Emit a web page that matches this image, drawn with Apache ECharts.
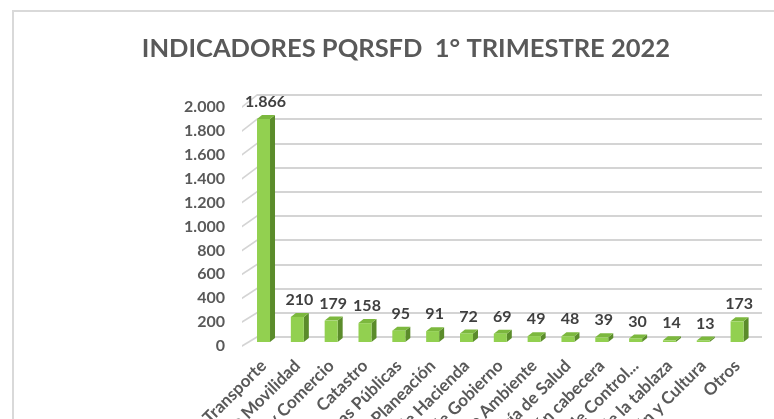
<!DOCTYPE html>
<html>
<head>
<meta charset="utf-8">
<script src="https://cdn.jsdelivr.net/npm/echarts@6/dist/echarts.min.js"></script>
<style>
html, body { margin: 0; background: #fff; }
#wrap { position: relative; width: 774px; height: 419px; overflow: hidden; }
#frame { position: absolute; left: 12px; top: 10px; width: 900px; height: 600px;
         border-left: 2px solid #d9d9d9; border-top: 2px solid #d9d9d9; }
#chart { position: absolute; left: 0; top: 0; width: 774px; height: 419px; }
</style>
</head>
<body>
<div id="wrap">
  <div id="frame"></div>
  <div id="chart"></div>
</div>
<script>
// datos del grafico
var categories = [
    'Tránsito y Transporte',
    'Secretaría de Movilidad',
    'Industria y Comercio',
    'Catastro',
    'Secretaría de Obras Públicas',
    'Secretaría de Planeación',
    'Secretaría de Hacienda',
    'Secretaría de Gobierno',
    'Secretaría de Medio Ambiente',
    'Secretaría de Salud',
    'Inspección cabecera',
    'Oficina de Control...',
    'Inspección de la tablaza',
    'Secretaría de Educación y Cultura',
    'Otros'
];
var values = [1866, 210, 179, 158, 95, 91, 72, 69, 49, 48, 39, 30, 14, 13, 173];
var yTicks = [0, 200, 400, 600, 800, 1000, 1200, 1400, 1600, 1800, 2000];

var FONT = 'Lato, "Noto Sans", sans-serif';
var GRID_COLOR = '#d4d4d4';

// miles con punto: 1866 -> 1.866
function fmtMiles(v) {
    return String(v).replace(/\B(?=(\d{3})+(?!\d))/g, '.');
}

var myChart = echarts.init(document.getElementById('chart'));

// diagonales del piso (frente -> fondo)
function diagShapes(params, api) {
    var cs = params.coordSys;
    var lw = 2;
    return yTicks.map(function (t) {
        var p = api.coord([0, t]);
        var fx = cs.x - 4.6, fy = p[1] + 4;
        var bx = fx + 15, by = p[1] - 5 - 3 * t / 2000;
        return {
            type: 'polygon',
            shape: {points: [[fx, fy - lw / 2], [bx, by - lw / 2], [bx, by + lw / 2], [fx, fy + lw / 2]]},
            style: {fill: GRID_COLOR}
        };
    });
}

// barra "3D": cara frontal, lateral y superior
function renderBar(params, api) {
    var idx = api.value(0);
    var val = api.value(1);
    var top = api.coord([idx, val]);
    var base = api.coord([idx, 0]);
    var w = 13, dx = 5, dy = -4;
    var x0 = top[0] - w / 2, x1 = top[0] + w / 2;
    var children = params.dataIndex === 0 ? diagShapes(params, api) : [];
    children.push(
        {
            type: 'polygon',
            shape: {points: [[x1, top[1]], [x1 + dx, top[1] + dy], [x1 + dx, base[1] + dy], [x1, base[1]]]},
            style: {fill: '#5b8c2b'}
        },
        {
            type: 'polygon',
            shape: {points: [[x0, top[1]], [x0 + dx, top[1] + dy], [x1 + dx, top[1] + dy], [x1, top[1]]]},
            style: {fill: '#7cb83e'}
        },
        {
            type: 'rect',
            shape: {x: x0, y: top[1], width: w, height: base[1] - top[1]},
            style: {fill: '#92d050'}
        },
        {
            type: 'text',
            x: top[0] + 2,
            y: top[1] + dy - 5,
            style: {
                text: fmtMiles(val),
                fill: '#404040',
                font: 'bold 16px ' + FONT,
                align: 'center',
                verticalAlign: 'bottom',
                textAlign: 'center',
                textVerticalAlign: 'bottom'
            }
        }
    );
    return {type: 'group', children: children};
}

var option = {
    animation: false,
    title: {
        text: 'INDICADORES PQRSFD  1° TRIMESTRE 2022',
        left: 401,
        top: 31,
        textAlign: 'center',
        textStyle: {
            fontFamily: FONT,
            fontSize: 25.5,
            fontWeight: 'bold',
            color: '#595959'
        }
    },
    grid: [
        // plano de las barras
        {left: 246.6, right: 20, top: 103, bottom: 77, outerBoundsMode: 'none', containLabel: false},
        // plano frontal (etiquetas del eje)
        {left: 242, right: 12, top: 107, bottom: 73, outerBoundsMode: 'none', containLabel: false},
        // pared del fondo (lineas de division)
        {left: 257, right: 12, top: 95, bottom: 82, outerBoundsMode: 'none', containLabel: false}
    ],
    xAxis: [
        {
            type: 'category',
            gridIndex: 0,
            data: categories,
            axisLine: {show: false},
            axisTick: {show: false},
            axisLabel: {
                interval: 0,
                rotate: 45,
                margin: 21,
                color: '#595959',
                fontFamily: FONT,
                fontSize: 17,
                fontWeight: 'bold'
            }
        },
        {type: 'value', gridIndex: 1, min: 0, max: 1, show: false},
        {type: 'value', gridIndex: 2, min: 0, max: 1, show: false}
    ],
    yAxis: [
        {type: 'value', gridIndex: 0, min: 0, max: 2000, show: false},
        {
            type: 'value',
            gridIndex: 1,
            min: 0,
            max: 2000,
            interval: 200,
            axisLine: {show: false},
            axisTick: {show: false},
            splitLine: {show: false},
            axisLabel: {
                margin: 17,
                formatter: fmtMiles,
                color: '#595959',
                fontFamily: FONT,
                fontSize: 16,
                fontWeight: 'bold'
            }
        },
        {
            type: 'value',
            gridIndex: 2,
            min: 0,
            max: 2000,
            interval: 200,
            axisLine: {show: false},
            axisTick: {show: false},
            axisLabel: {show: false},
            splitLine: {show: true, lineStyle: {color: GRID_COLOR, width: 2}}
        }
    ],
    series: [
        {
            type: 'custom',
            xAxisIndex: 0,
            yAxisIndex: 0,
            renderItem: renderBar,
            encode: {x: 0, y: 1},
            data: values.map(function (v, i) { return [i, v]; })
        }
    ]
};

myChart.setOption(option);
</script>
</body>
</html>
